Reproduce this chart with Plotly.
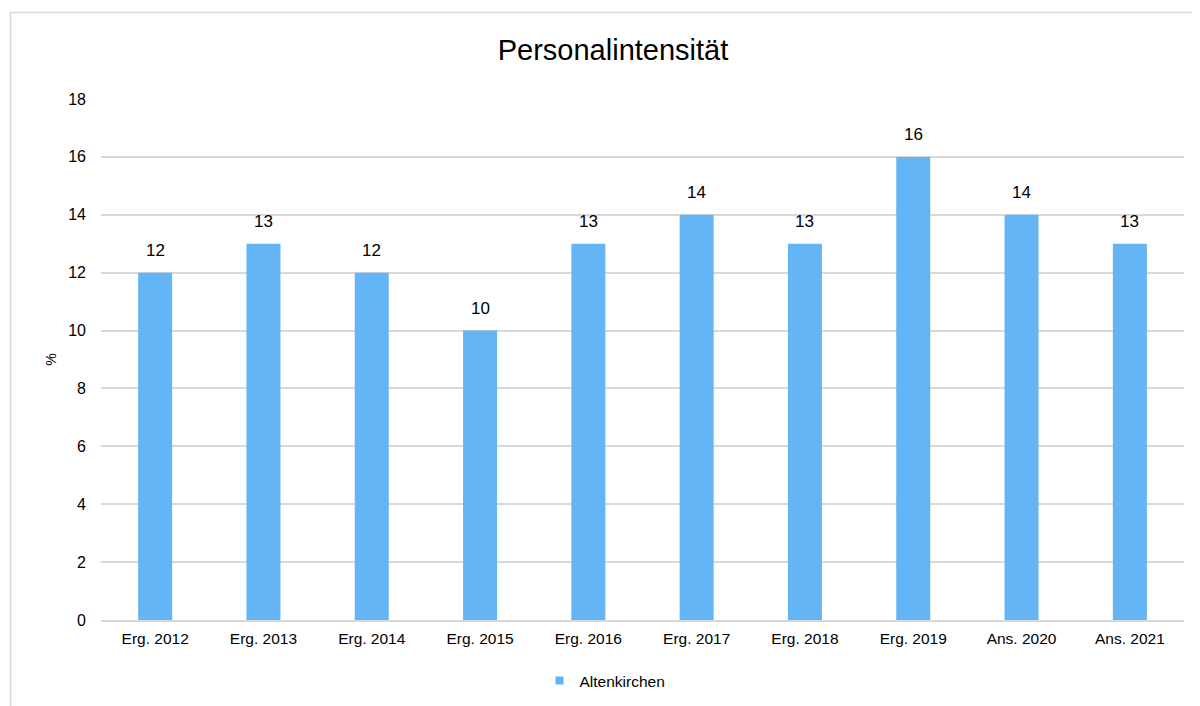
import plotly.graph_objects as go

categories = ["Erg. 2012", "Erg. 2013", "Erg. 2014", "Erg. 2015", "Erg. 2016",
              "Erg. 2017", "Erg. 2018", "Erg. 2019", "Ans. 2020", "Ans. 2021"]
values = [12, 13, 12, 10, 13, 14, 13, 16, 14, 13]
series_name = "Altenkirchen"
y_ticks = [0, 2, 4, 6, 8, 10, 12, 14, 16, 18]

FONT = "Liberation Sans, Arial, sans-serif"
BAR_COLOR = "#63B5F5"
GRID = "#d9d9d9"

# page is offset by the 8px body margin
OFF = 8
W, H = 1192, 730
L, R, T = 101 - OFF, 16, 99 - OFF
B = H - (620 - OFF)
pw, ph = W - L - R, H - T - B


def px_x(x):
    return (x - OFF - L) / pw


def px_y(y):
    return (H - B - (y - OFF)) / ph


fig = go.Figure()
fig.add_trace(go.Bar(
    x=categories, y=values, name=series_name, showlegend=False,
    marker=dict(color=BAR_COLOR, line=dict(width=0)),
))
# legend entry with a small square marker
fig.add_trace(go.Scatter(
    x=[categories[0]], y=[None], mode="markers", name=series_name,
    marker=dict(symbol="square", size=8, color=BAR_COLOR),
    showlegend=True, hoverinfo="skip",
))

for c, v in zip(categories, values):
    fig.add_annotation(x=c, y=v, text=str(v), showarrow=False,
                       yanchor="middle", yshift=22,
                       font=dict(family=FONT, size=17, color="#000000"))

fig.add_shape(type="rect", xref="paper", yref="paper",
              x0=px_x(10.5), x1=px_x(1240), y0=px_y(12.5), y1=px_y(780),
              line=dict(color=GRID, width=1.5), fillcolor="rgba(0,0,0,0)", layer="below")

fig.update_layout(
    width=W, height=H,
    margin=dict(l=L, r=R, t=T, b=B),
    paper_bgcolor="white", plot_bgcolor="white",
    font=dict(family=FONT, color="#000000", size=16),
    title=dict(text="Personalintensität", x=(613 - OFF) / W, xanchor="center",
               y=1 - (50 - OFF) / H, yanchor="middle",
               font=dict(size=29, family=FONT, color="#000000")),
    bargap=0.686,
    showlegend=True,
    legend=dict(orientation="h", x=px_x(605), xanchor="center", y=px_y(681), yanchor="middle",
                font=dict(size=15.5, family=FONT), itemwidth=30, tracegroupgap=0),
    xaxis=dict(range=[-0.5, len(categories) - 0.5], autorange=False,
               showgrid=False, showline=True, linecolor=GRID, linewidth=1.5, automargin=False,
               ticks="", tickfont=dict(size=15.5), ticklabelstandoff=4),
    yaxis=dict(range=[0, 18], tickvals=y_ticks, showgrid=True, gridcolor=GRID, gridwidth=1.5,
               zeroline=False, showline=False, ticks="", ticklabelstandoff=14, automargin=False,
               tickfont=dict(size=16),
               title=dict(text="%", font=dict(size=14), standoff=8)),
)

fig.write_html("out.html")
